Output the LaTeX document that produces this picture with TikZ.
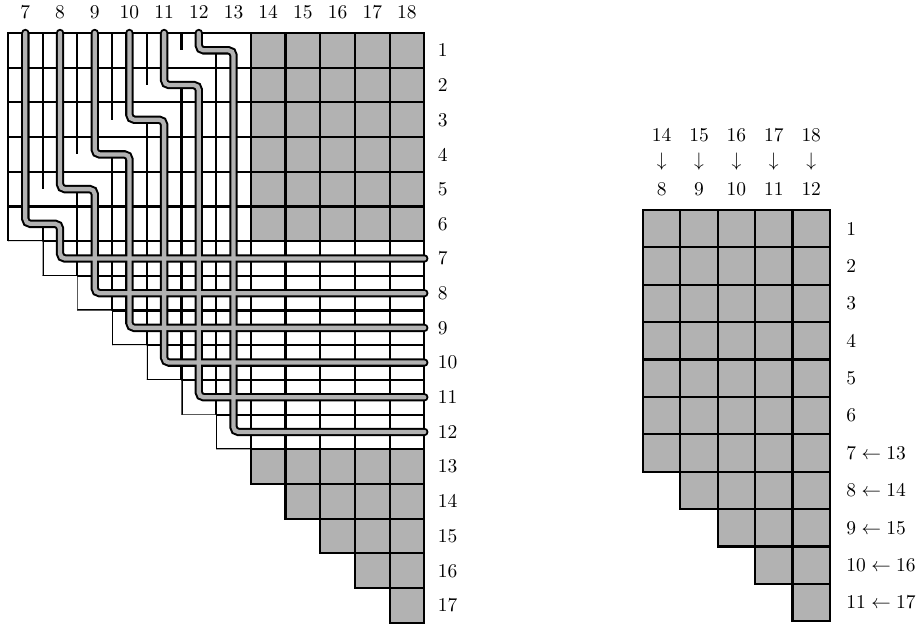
\documentclass[tikz,border=0pt]{standalone}
\usetikzlibrary{calc}

\tikzset{
  grd/.style={line width=1.1pt},
  shade/.style={fill=black!30},
  pipeout/.style={line width=4.3pt, line cap=round, rounded corners=2.5pt},
  pipein/.style={line width=2.2pt, black!30, line cap=round, rounded corners=2.5pt},
  lbl/.style={anchor=west, inner sep=0pt}
}

\begin{document}
\begin{tikzpicture}[x=0.01803cm, y=-0.01803cm]
\useasboundingbox (0,0) rectangle (924,628);

% left: the big staircase with the six pipes
\begin{scope}[shift={(8,33)}, x=0.6257cm, y=-0.6257cm]
  \begin{scope}
    \clip (0,0) -- (0,6) -- (1,6) -- (1,7) -- (2,7) -- (2,8) -- (3,8) -- (3,9) -- (4,9) -- (4,10) -- (5,10) -- (5,11) -- (6,11) -- (6,12) -- (12,12) -- (12,0) -- cycle;
    \foreach \i in {0,...,12}
      \draw[grd] (0,\i) -- (12,\i);
    \draw[grd] (0,0) -- (0,12);
    \foreach \i in {7,...,12}
      \draw[grd] (\i,0) -- (\i,12);
    % no wall where a pipe is about to step right
    \foreach \k in {7,...,12}
      \draw[grd] (\k-6,0) -- (\k-6,{max(0,11.5-\k)}) (\k-6,12.5-\k) -- (\k-6,12);
  \end{scope}
  \draw[grd] (0,6) -- (0,0) -- (12,0) -- (12,12);
  \foreach \r in {1,...,6}
    \foreach \c in {14,...,18}
      \draw[grd, shade] (\c-7,\r-1) rectangle ++(1,1);
  \foreach \r in {13,...,17}{
    \pgfmathtruncatemacro\s{\r+1}
    \foreach \c in {\s,...,18}
      \draw[grd, shade] (\c-7,\r-1) rectangle ++(1,1);
  }
  % pipes: outline first, then the grey core
  \foreach \k in {7,...,12}
    \draw[pipeout] (\k-6.5,0) -- (\k-6.5,12.5-\k) -- (\k-5.5,12.5-\k) -- (\k-5.5,\k-0.5) -- (12,\k-0.5);
  \foreach \k in {7,...,12}
    \draw[pipein] (\k-6.5,0) -- (\k-6.5,12.5-\k) -- (\k-5.5,12.5-\k) -- (\k-5.5,\k-0.5) -- (12,\k-0.5);
  \foreach \c in {7,...,18}
    \node (top\c) at (\c-6.5,-0.6) {\c};
  \foreach \r in {1,...,17}
    \node[lbl] (row\r) at (12.38,\r-0.5) {\r};
\end{scope}

% right: what is left after removing the pipes
\begin{scope}[shift={(643,210)}, x=0.6743cm, y=-0.6743cm]
  \foreach \r in {1,...,11}{
    \pgfmathtruncatemacro\s{max(1,\r-6)}
    \foreach \c in {\s,...,5}
      \draw[grd, shade] (\c-1,\r-1) rectangle ++(1,1);
  }
  \foreach \c/\o/\n in {1/14/8, 2/15/9, 3/16/10, 4/17/11, 5/18/12}{
    \node (old\o) at (\c-0.5,-2.0) {\o};
    \node (arr\o) at (\c-0.5,-1.3) {$\downarrow$};
    \node (new\n) at (\c-0.5,-0.55) {\n};
  }
  \foreach \r in {1,...,6}
    \node[lbl] (lab\r) at (5.43,\r-0.5) {\r};
  \foreach \r/\o in {7/13, 8/14, 9/15, 10/16, 11/17}
    \node[lbl] (lab\r) at (5.43,\r-0.5) {$\r\leftarrow\o$};
\end{scope}
\end{tikzpicture}
\end{document}
